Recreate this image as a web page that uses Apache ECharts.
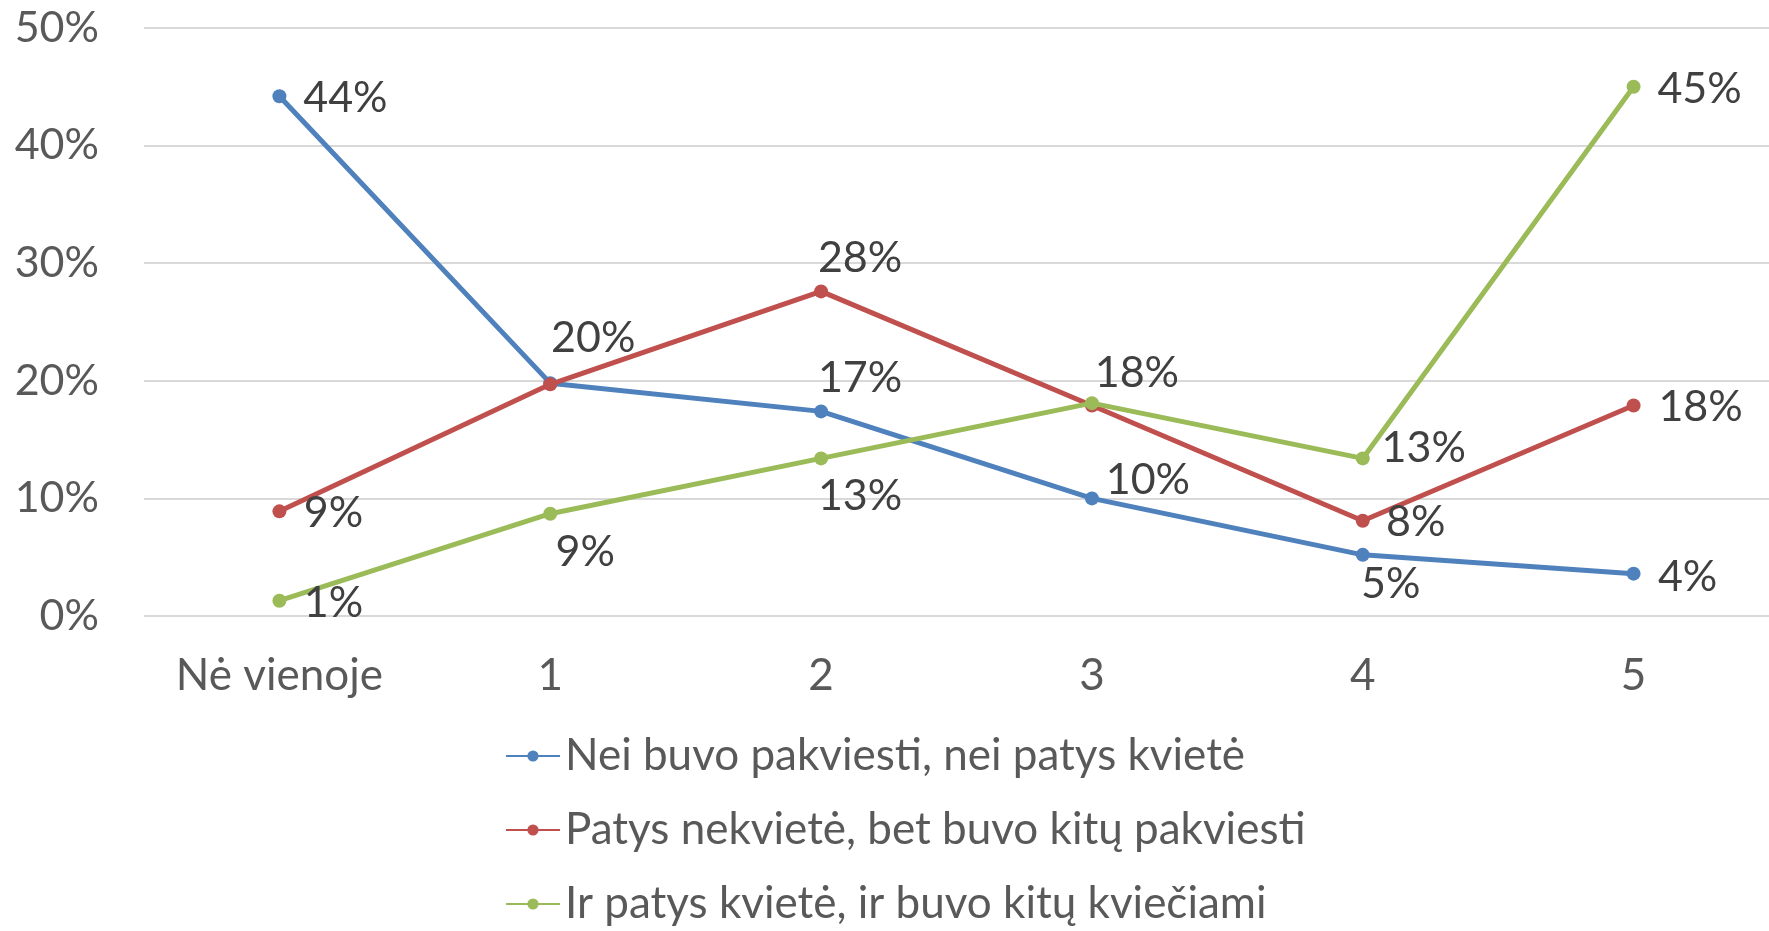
<!DOCTYPE html>
<html>
<head>
<meta charset="utf-8">
<script src="https://cdn.jsdelivr.net/npm/echarts@6/dist/echarts.min.js"></script>
<style>
  html, body { margin: 0; padding: 0; background: #fff; }
  #chart { width: 1769px; height: 931px; }
</style>
</head>
<body>
<div id="chart"></div>
<script>
  // duomenys (procentais)
  const categories = ['Nė vienoje', '1', '2', '3', '4', '5'];
  const seriesNames = [
    'Nei buvo pakviesti, nei patys kvietė',
    'Patys nekvietė, bet buvo kitų pakviesti',
    'Ir patys kvietė, ir buvo kitų kviečiami'
  ];
  const neiNei = [44.2, 19.8, 17.4, 10.0, 5.2, 3.6];
  const patysNekviete = [8.9, 19.7, 27.6, 17.9, 8.1, 17.9];
  const irIr = [1.3, 8.7, 13.4, 18.1, 13.4, 45.0];
  const yTicks = [0, 10, 20, 30, 40, 50];

  const colors = ['#4F81BD', '#C0504D', '#9BBB59'];
  const font = 'Lato, "Liberation Sans", sans-serif';

  // etikečių poslinkiai nuo taško centro (null = nerodyti)
  const labelOffsets = [
    [[66, 2], [43, -45], [39, -33], [56, -18], [28, 29], [54, 3]],
    [[54, 2], null, [39, -33], null, [53, 1], [67, 2]],
    [[54, 2], [35, 38], [39, 38], [45, -30], [61, -10], [66, 2]]
  ];

  function buildSeries(values, idx) {
    return {
      name: seriesNames[idx],
      type: 'line',
      symbol: 'circle',
      symbolSize: 14,
      lineStyle: { width: 5, color: colors[idx] },
      itemStyle: { color: colors[idx] },
      emphasis: { disabled: true },
      z: 3 + idx,
      data: values.map((v, i) => {
        const off = labelOffsets[idx][i];
        return {
          value: v,
          label: off ? {
            show: true,
            position: 'inside',
            offset: off,
            formatter: (p) => Math.round(p.value) + '%',
            color: '#404040',
            fontFamily: font,
            fontSize: 43
          } : { show: false }
        };
      })
    };
  }

  const chart = echarts.init(document.getElementById('chart'));
  chart.setOption({
    animation: false,
    color: colors,
    grid: { left: 144, right: -7, top: 28, bottom: 315, containLabel: false },
    legend: {
      orient: 'vertical',
      left: 505,
      top: 732,
      height: 199,
      padding: 0,
      itemWidth: 54,
      itemHeight: 14,
      itemGap: 26,
      textStyle: { color: '#595959', fontFamily: font, fontSize: 44, lineHeight: 48 },
      data: seriesNames
    },
    xAxis: {
      type: 'category',
      data: categories,
      boundaryGap: true,
      axisLine: { show: false },
      axisTick: { show: false },
      axisLabel: { color: '#595959', fontFamily: font, fontSize: 44, margin: 38, interval: 0 }
    },
    yAxis: {
      type: 'value',
      min: yTicks[0],
      max: yTicks[yTicks.length - 1],
      interval: 10,
      axisLine: { show: false },
      axisTick: { show: false },
      splitLine: { lineStyle: { color: '#D9D9D9', width: 2 } },
      axisLabel: { color: '#595959', fontFamily: font, fontSize: 43, margin: 45, formatter: '{value}%' }
    },
    series: [
      buildSeries(neiNei, 0),
      buildSeries(patysNekviete, 1),
      buildSeries(irIr, 2)
    ]
  });
</script>
</body>
</html>
